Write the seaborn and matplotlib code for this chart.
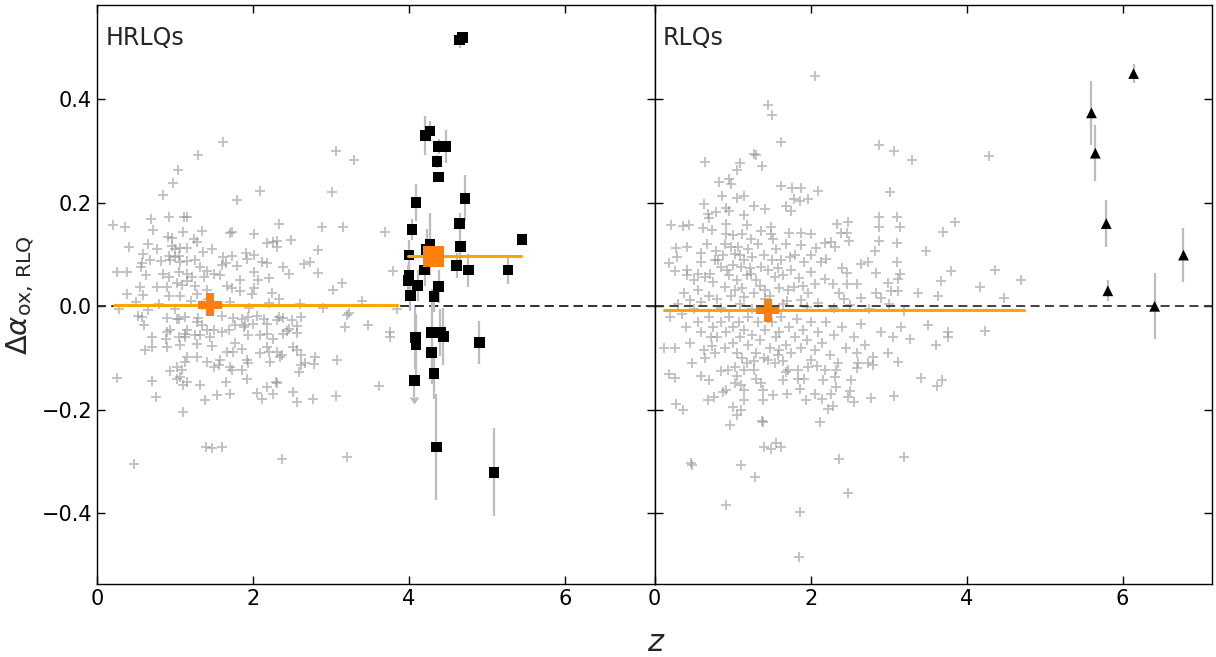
import matplotlib
matplotlib.use("Agg")
import matplotlib.pyplot as plt
import seaborn as sns
import numpy as np

# ---------------- data ----------------
hrlq_gray = [
    (1.62,0.318),(1.30,0.292),(1.04,0.263),(0.97,0.238),(0.85,0.216),(3.06,0.30),(3.30,0.282),(3.01,0.221),(2.09,0.222),(1.79,0.206),
    (0.21,0.157),(0.36,0.153),(0.69,0.169),(0.93,0.172),(1.12,0.172),(1.15,0.172),(2.33,0.16),(2.88,0.153),(3.15,0.153),(3.69,0.144),
    (0.72,0.147),(1.11,0.144),(1.35,0.146),(1.71,0.142),(1.73,0.144),(2.01,0.14),(2.49,0.128),(2.18,0.122),(2.26,0.124),(2.31,0.127),
    (2.31,0.115),(2.83,0.108),(0.41,0.115),(0.66,0.12),(0.91,0.134),(0.96,0.132),(1.25,0.13),(1.28,0.124),(0.77,0.11),(0.96,0.117),
    (1.00,0.11),(1.06,0.113),(1.15,0.113),(1.36,0.105),(1.47,0.11),(0.59,0.102),(0.92,0.098),(1.05,0.098),(1.00,0.095),(1.62,0.096),
    (1.73,0.097),(1.91,0.103),(2.01,0.1),(0.68,0.089),(0.58,0.083),(0.82,0.087),(0.94,0.09),(1.07,0.086),(1.15,0.088),(1.26,0.09),
    (1.32,0.076),(1.41,0.069),(1.60,0.08),(1.65,0.083),(1.80,0.078),(1.92,0.092),(2.12,0.086),(2.18,0.084),(2.39,0.076),(2.46,0.063),
    (2.65,0.082),(2.73,0.085),(2.83,0.064),(3.80,0.068),(0.26,0.066),(0.39,0.066),(0.56,0.076),(0.63,0.06),(0.85,0.062),(0.92,0.056),
    (1.05,0.066),(1.15,0.062),(1.22,0.056),(1.37,0.056),(1.50,0.063),(1.58,0.06),(1.83,0.05),(2.01,0.067),(2.06,0.05),(2.20,0.055),
    (1.03,0.046),(1.09,0.042),(1.15,0.048),(1.26,0.04),(0.77,0.038),(0.90,0.038),(0.55,0.038),(1.67,0.04),(1.73,0.035),(1.84,0.03),
    (2.01,0.035),(1.99,0.024),(3.14,0.045),(3.03,0.031),(0.38,0.024),(0.59,0.022),(0.92,0.02),(1.07,0.02),(1.28,0.024),(1.41,0.032),
    (2.24,0.025),(2.34,0.015),(1.43,0.015),
    (0.5,0.008),(0.8,0.005),(1.0,-0.005),(1.2,0.01),(1.7,0.008),(1.95,-0.004),(2.2,0.006),(2.6,0.004),(0.65,-0.008),(1.35,0.002),
    (3.85,-0.005),(3.4,0.01),(2.9,-0.003),(0.28,-0.005),
    (0.53,-0.018),(0.58,-0.02),(0.90,-0.022),(1.03,-0.024),(1.13,-0.02),(1.30,-0.022),(1.60,-0.018),(1.75,-0.022),(1.86,-0.024),(1.94,-0.02),
    (2.05,-0.018),(2.14,-0.024),(2.33,-0.021),(2.39,-0.023),(2.50,-0.027),(2.61,-0.02),(3.21,-0.017),(3.23,-0.012),
    (0.60,-0.037),(1.05,-0.025),(1.28,-0.03),(1.35,-0.037),(1.50,-0.046),(1.60,-0.05),(1.69,-0.046),(1.77,-0.037),(1.88,-0.04),(1.90,-0.037),
    (2.00,-0.034),(2.18,-0.034),(2.31,-0.027),(2.46,-0.043),(2.56,-0.039),(3.18,-0.04),(3.48,-0.037),(3.76,-0.05),(3.76,-0.059),
    (0.90,-0.05),(0.94,-0.046),(1.15,-0.046),(1.13,-0.053),(1.32,-0.056),(1.41,-0.046),
    (0.71,-0.06),(0.88,-0.064),(1.05,-0.059),(1.13,-0.06),(1.26,-0.056),(1.45,-0.059),(1.94,-0.056),(2.09,-0.056),(2.18,-0.053),(2.26,-0.063),
    (2.39,-0.053),(2.44,-0.048),(2.56,-0.052),
    (0.62,-0.084),(0.71,-0.079),(0.90,-0.079),(1.07,-0.075),(1.28,-0.072),(1.47,-0.077),(1.77,-0.071),(1.67,-0.088),(1.75,-0.088),(1.86,-0.082),
    (2.09,-0.091),(2.18,-0.079),(2.20,-0.088),(2.31,-0.088),(2.37,-0.095),(2.52,-0.079),(2.56,-0.085),(2.61,-0.095),(2.80,-0.098),
    (1.15,-0.098),(1.13,-0.108),(1.28,-0.098),(1.41,-0.108),(1.50,-0.117),(1.56,-0.114),(1.58,-0.104),(1.71,-0.117),(1.73,-0.124),(1.86,-0.124),
    (1.92,-0.104),(1.94,-0.11),(2.22,-0.108),(2.35,-0.098),(2.61,-0.114),(2.67,-0.11),(2.78,-0.112),(3.08,-0.103),
    (0.94,-0.125),(1.03,-0.117),(1.09,-0.124),(1.07,-0.137),(1.15,-0.146),(1.03,-0.14),(1.11,-0.153),(1.32,-0.153),(1.65,-0.146),(1.92,-0.14),
    (2.18,-0.156),(2.29,-0.146),(2.31,-0.149),(2.59,-0.127),(0.26,-0.138),(0.71,-0.144),
    (0.76,-0.175),(1.39,-0.182),(1.54,-0.172),(1.70,-0.17),(2.05,-0.168),(2.12,-0.179),(2.26,-0.169),(2.51,-0.166),(2.56,-0.185),(2.77,-0.179),
    (3.07,-0.174),(3.62,-0.155),(1.11,-0.205),(1.40,-0.272),(1.47,-0.274),(1.60,-0.272),(0.47,-0.304),(2.37,-0.296),(3.20,-0.292),
]

rlq_gray = [
    (2.05,0.446),(1.45,0.39),(1.50,0.37),(1.62,0.318),(2.88,0.312),(3.07,0.30),(3.30,0.282),(4.29,0.29),(0.65,0.279),(1.09,0.277),
    (1.05,0.263),(1.27,0.295),(1.30,0.292),(1.38,0.272),(0.82,0.24),(0.95,0.247),(0.98,0.237),(1.62,0.232),(1.76,0.228),(1.88,0.228),
    (2.09,0.222),(0.86,0.214),(1.06,0.21),(1.15,0.214),(1.79,0.207),(1.87,0.204),(1.96,0.207),(3.02,0.221),
    (0.63,0.197),(0.79,0.183),(0.92,0.19),(0.95,0.184),(1.28,0.193),(1.42,0.188),(1.68,0.193),(1.75,0.185),(0.68,0.179),(0.70,0.17),
    (1.15,0.176),(1.19,0.158),(0.92,0.16),
    (0.21,0.158),(0.36,0.155),(0.44,0.158),(0.62,0.152),(0.74,0.148),(1.49,0.153),(1.72,0.141),(1.88,0.141),(2.01,0.14),(2.34,0.16),
    (2.48,0.163),(2.88,0.172),(3.11,0.172),(3.15,0.153),(3.85,0.163),(3.70,0.144),
    (0.91,0.14),(1.00,0.137),(1.12,0.14),(1.24,0.13),(1.36,0.145),(1.49,0.14),
    (2.39,0.141),(2.47,0.141),(2.49,0.127),(2.87,0.153),(2.88,0.127),(3.11,0.122),(3.48,0.106),
    (0.28,0.112),(0.42,0.114),(0.29,0.095),(0.18,0.084),(0.26,0.068),(0.41,0.07),(0.42,0.061),
    (0.59,0.103),(0.67,0.12),(0.79,0.106),(0.78,0.089),(0.60,0.086),
    (1.88,0.118),(2.07,0.113),(2.18,0.122),(2.26,0.124),(2.31,0.114),
    (2.13,0.086),(2.20,0.092),(2.40,0.075),(2.47,0.064),(2.65,0.082),(2.74,0.085),(2.83,0.107),(2.84,0.065),(2.99,0.045),(3.03,0.03),
    (3.11,0.086),(3.12,0.053),(3.14,0.063),(3.12,0.03),(3.37,0.026),(3.67,0.048),(3.80,0.068),(3.63,0.019),(4.17,0.038),(4.36,0.071),
    (4.48,0.016),(4.70,0.051),
    (2.29,0.044),(2.37,0.025),(2.46,0.043),(2.59,0.044),(2.65,0.017),(2.84,0.026),(2.90,0.017),(2.43,0.015),(2.19,0.053),
    (0.38,0.025),(0.56,0.031),(0.64,0.056),(0.75,0.047),(0.90,0.037),(1.03,0.031),(1.15,0.018),(1.28,0.025),(1.41,0.031),(1.54,0.056),
    (1.71,0.031),(1.79,0.037),(1.88,0.012),(1.97,0.025),(2.05,0.044),(2.01,0.066),(1.92,0.086),(1.73,0.095),(1.62,0.089),(1.50,0.089),
    (1.37,0.076),(1.24,0.063),(1.11,0.076),(1.03,0.102),(0.98,0.115),(1.07,0.115),(1.15,0.089),(0.85,0.076),(0.81,0.089),(0.71,0.063),
    (0.56,0.063),(0.51,0.05),(0.45,0.012),
    (0.95,0.06),(1.0,0.08),(1.05,0.05),(1.1,0.1),(1.2,0.11),(1.25,0.095),(1.3,0.05),(1.33,0.12),(1.4,0.1),(1.45,0.07),
    (1.55,0.11),(1.58,0.075),(1.65,0.06),(1.68,0.12),(1.75,0.07),(1.8,0.1),(1.85,0.055),(0.88,0.1),(0.9,0.12),(0.93,0.07),
    (1.12,0.035),(1.18,0.06),(1.35,0.04),(1.48,0.02),(1.6,0.035),(0.7,0.02),(0.8,0.015),(1.7,0.01),(1.9,0.04),(2.0,0.1),
    (0.98,0.02),(1.22,0.075),(1.52,0.13),(1.42,0.015),
    (0.3,0.005),(0.5,-0.005),(0.6,0.008),(0.85,-0.003),(1.1,0.005),(1.25,-0.005),(1.65,0.004),(1.95,-0.002),(2.1,0.006),(2.3,-0.004),
    (2.5,0.002),(2.75,-0.006),(3.0,0.004),(3.2,-0.01),(0.2,-0.02),(0.35,-0.015),
    (0.12,-0.08),(0.26,-0.08),(0.18,-0.131),(0.26,-0.138),(0.28,-0.188),(0.36,-0.2),(0.48,-0.109),(0.59,-0.135),(0.70,-0.143),(0.63,-0.084),
    (0.72,-0.06),(0.73,-0.077),(0.68,-0.182),(0.76,-0.175),(0.88,-0.166),(0.92,-0.161),
    (0.85,-0.125),(0.94,-0.124),(1.03,-0.117),(1.06,-0.135),(1.15,-0.124),(1.03,-0.149),(1.11,-0.153),(1.15,-0.162),(1.15,-0.182),(1.00,-0.194),
    (1.11,-0.2),(1.05,-0.211),(0.97,-0.23),
    (1.28,-0.124),(1.30,-0.14),(1.37,-0.149),(1.39,-0.162),(1.39,-0.182),(1.52,-0.172),(1.39,-0.223),(1.70,-0.169),(1.86,-0.159),(1.94,-0.182),
    (2.05,-0.169),(2.14,-0.18),(2.12,-0.223),(2.22,-0.198),(2.29,-0.193),(2.26,-0.169),(2.33,-0.156),(2.48,-0.175),(2.56,-0.185),(2.51,-0.164),
    (2.78,-0.177),(3.07,-0.174),(3.62,-0.155),(3.68,-0.143),(3.41,-0.138),
    (1.45,-0.104),(1.54,-0.11),(1.60,-0.085),(1.65,-0.143),(1.69,-0.127),(1.71,-0.124),(1.84,-0.14),(1.92,-0.14),(1.84,-0.124),(1.97,-0.117),
    (2.01,-0.104),(2.16,-0.143),(2.18,-0.124),(2.31,-0.136),(2.33,-0.124),(2.52,-0.143),(2.59,-0.12),(2.61,-0.11),(2.74,-0.11),(2.80,-0.098),
    (2.80,-0.114),(2.99,-0.091),(3.12,-0.107),(3.16,-0.04),(3.27,-0.064),(3.50,-0.037),(3.61,-0.075),(3.76,-0.05),(3.76,-0.059),(4.24,-0.048),
    (1.38,-0.222),(1.40,-0.272),(1.49,-0.275),(1.55,-0.264),(1.62,-0.272),(0.47,-0.303),(0.48,-0.306),(1.11,-0.307),(1.29,-0.33),(0.92,-0.384),
    (1.87,-0.397),(1.85,-0.485),(2.37,-0.296),(2.48,-0.361),(3.20,-0.292),
    (0.55,-0.03),(0.6,-0.05),(0.7,-0.02),(0.75,-0.04),(0.8,-0.06),(0.85,-0.03),(0.9,-0.08),(0.92,-0.05),(0.95,-0.02),(1.0,-0.04),
    (1.0,-0.07),(1.05,-0.09),(1.08,-0.03),(1.1,-0.06),(1.12,-0.1),(1.15,-0.045),(1.2,-0.075),(1.2,-0.02),(1.25,-0.055),(1.3,-0.09),
    (1.32,-0.03),(1.35,-0.065),(1.4,-0.1),(1.42,-0.045),(1.48,-0.08),(1.5,-0.03),(1.55,-0.06),(1.6,-0.05),(1.62,-0.02),(1.68,-0.075),
    (1.72,-0.04),(1.75,-0.09),(1.8,-0.06),(1.82,-0.025),(1.88,-0.08),(1.9,-0.045),(1.95,-0.065),(2.0,-0.03),(2.05,-0.085),(2.1,-0.05),
    (2.15,-0.07),(2.2,-0.03),(2.25,-0.095),(2.3,-0.055),(2.4,-0.04),(2.45,-0.08),(2.55,-0.06),(2.65,-0.035),(2.7,-0.075),(2.9,-0.05),
    (3.05,-0.06),(0.65,-0.1),(0.78,-0.09),(1.18,-0.11),(1.28,-0.105),(1.58,-0.095),(1.65,-0.105),(2.08,-0.115),(0.4,-0.04),(0.45,-0.07),
    (2.35,-0.11),(2.6,-0.09),
]

# HRLQs (black squares): z, delta alpha_ox, error
hrlq_z = [4.65,4.69,4.21,4.27,4.38,4.47,4.36,4.38,4.09,4.72,4.04,4.65,5.45,4.27,4.23,4.00,4.66,4.61,4.76,5.27,
          4.20,4.00,3.99,4.11,4.38,4.02,4.32,4.08,4.09,4.29,4.40,4.44,4.29,4.32,4.35,5.09,4.90]
hrlq_y = [0.515,0.520,0.330,0.339,0.309,0.309,0.280,0.250,0.200,0.209,0.149,0.160,0.129,0.120,0.110,0.099,0.115,0.079,0.070,0.070,
          0.070,0.059,0.050,0.040,0.039,0.021,0.019,-0.061,-0.075,-0.051,-0.051,-0.059,-0.090,-0.130,-0.272,-0.321,-0.070]
hrlq_err = [0.015,0.010,0.038,0.020,0.015,0.032,0.012,0.010,0.036,0.044,0.020,0.020,0.006,0.060,0.040,0.030,0.030,0.025,0.032,0.027,
            0.030,0.040,0.030,0.030,0.032,0.030,0.030,0.060,0.060,0.085,0.045,0.055,0.060,0.050,0.103,0.085,0.041]
hrlq_ul_z = [4.07]
hrlq_ul_y = [-0.144]

# RLQs (black triangles)
rlq_z = [6.14,5.60,5.65,5.79,5.81,6.41,6.78]
rlq_y = [0.450,0.374,0.296,0.160,0.030,0.000,0.099]
rlq_err = [0.018,0.062,0.054,0.045,0.020,0.064,0.052]

# Orange means: [z_min, z_max], mean z, mean value
hrlq_low_range = [0.22, 3.85]; hrlq_low_mean = [1.45, 0.003]
hrlq_high_range = [3.99, 5.44]; hrlq_high_mean = [4.32, 0.097]
rlq_low_range = [0.12, 4.73]; rlq_low_mean = [1.45, -0.008]

# ---------------- plot ----------------
sns.set_theme(style="ticks")
plt.rcParams["font.family"] = ["DejaVu Sans"]
plt.rcParams["mathtext.fontset"] = "dejavusans"

fig, axes = plt.subplots(1, 2, figsize=(12.16, 6.57), dpi=100, sharey=True)
fig.subplots_adjust(left=0.0797, right=0.997, top=0.992, bottom=0.111, wspace=0)

GRAY = "#8c8c8c"
ERRC = "#bdbdbd"

def draw_gray(ax, pts):
    z = [p[0] for p in pts]
    y = [p[1] for p in pts]
    sns.scatterplot(x=z, y=y, marker="+", color=GRAY, alpha=0.55, s=60,
                    linewidth=1.3, ax=ax, zorder=1)

def draw_mean(ax, rng, mean, marker, ms):
    ax.axhline(0, color="#333333", ls=(0, (5, 3)), lw=1.3, zorder=2)
    sns.lineplot(x=rng, y=[mean[1], mean[1]], color="#ffa500", lw=2.2, ax=ax, zorder=5)
    sns.scatterplot(x=[mean[0]], y=[mean[1]], marker=marker, color="#ff7f0e", s=ms,
                    edgecolor="none", ax=ax, zorder=6)

ax = axes[0]
draw_gray(ax, hrlq_gray)
ax.errorbar(hrlq_z, hrlq_y, yerr=hrlq_err, fmt="none", ecolor=ERRC, elinewidth=1.6, zorder=3)
ax.errorbar(hrlq_ul_z, hrlq_ul_y, yerr=[0.032], uplims=True, fmt="none", ecolor=ERRC,
            color=ERRC, elinewidth=1.6, capsize=3, zorder=3)
sns.scatterplot(x=hrlq_z + hrlq_ul_z, y=hrlq_y + hrlq_ul_y, marker="s", color="black",
                s=60, edgecolor="none", ax=ax, zorder=4)
draw_mean(ax, hrlq_low_range, hrlq_low_mean, "P", 280)
draw_mean(ax, hrlq_high_range, hrlq_high_mean, "s", 230)
ax.text(0.015, 0.965, "HRLQs", transform=ax.transAxes, fontsize=17, va="top", ha="left")

ax = axes[1]
draw_gray(ax, rlq_gray)
ax.errorbar(rlq_z, rlq_y, yerr=rlq_err, fmt="none", ecolor=ERRC, elinewidth=1.6, zorder=3)
sns.scatterplot(x=rlq_z, y=rlq_y, marker="^", color="black", s=60, edgecolor="none", ax=ax, zorder=4)
draw_mean(ax, rlq_low_range, rlq_low_mean, "P", 280)
ax.text(0.015, 0.965, "RLQs", transform=ax.transAxes, fontsize=17, va="top", ha="left")

for ax in axes:
    ax.set_xlim(0, 7.15)
    ax.set_ylim(-0.537, 0.582)
    ax.set_xticks([0, 2, 4, 6])
    ax.set_yticks([-0.4, -0.2, 0.0, 0.2, 0.4])
    ax.tick_params(direction="in", length=6, width=1, top=True, right=True,
                   labelsize=15, colors="black")
    for s in ax.spines.values():
        s.set_color("black")
        s.set_linewidth(1.0)
    ax.set_xlabel("")
    ax.set_ylabel("")

axes[0].set_yticklabels(["\u22120.4", "\u22120.2", "0.0", "0.2", "0.4"])
axes[1].tick_params(labelleft=False)
axes[0].set_ylabel(r"$\Delta\alpha_{\mathrm{ox,\,RLQ}}$", fontsize=21, labelpad=4)
fig.text(0.54, 0.0, r"$z$", fontsize=22, ha="center", va="bottom")

fig.savefig("out.png", dpi=100)
